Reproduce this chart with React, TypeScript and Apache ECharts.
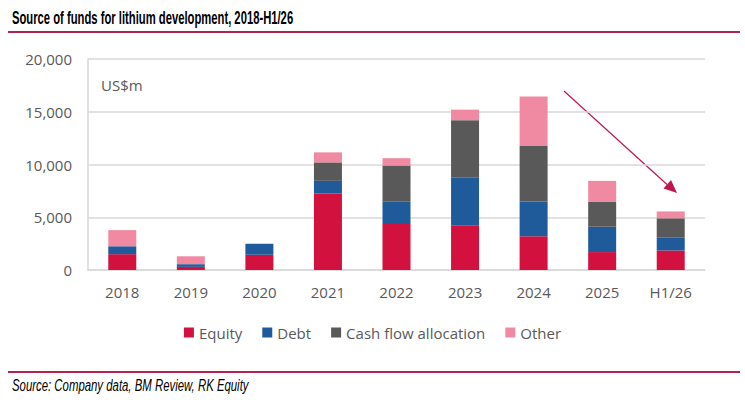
import React, { useEffect, useRef } from "react";
import * as echarts from "echarts";

const categories = ["2018", "2019", "2020", "2021", "2022", "2023", "2024", "2025", "H1/26"];
const equity = [1500, 300, 1450, 7250, 4450, 4250, 3200, 1700, 1850];
const debt = [750, 250, 1050, 1200, 2050, 4500, 3300, 2400, 1250];
const cashFlow = [0, 0, 0, 1750, 3400, 5450, 5250, 2350, 1800];
const other = [1530, 750, 0, 950, 700, 1000, 4700, 2000, 650];
const yTicks = [0, 5000, 10000, 15000, 20000];

const RED = "#d3113f";
const BLUE = "#1f5b9a";
const GREY = "#595959";
const PINK = "#f08aa3";
const RULE = "#b5224d";
const LABEL = "#595959";
const FONT = "'Open Sans', sans-serif";

const App = () => {
  const chartRef = useRef<HTMLDivElement>(null);

  useEffect(() => {
    if (!chartRef.current) return;
    const chart = echarts.init(chartRef.current, null, { renderer: "svg" });

    const bar = (name: string, data: number[], color: string) => ({
      name,
      type: "bar" as const,
      stack: "funds",
      data,
      barWidth: 28,
      itemStyle: { color },
      emphasis: { disabled: true },
    });

    chart.setOption({
      animation: false,
      textStyle: { fontFamily: FONT },
      grid: { left: 88, right: 40, top: 59, bottom: 132 },
      xAxis: {
        type: "category",
        data: categories,
        axisTick: { show: false },
        axisLine: { lineStyle: { color: "#d9d9d9", width: 1.5 } },
        axisLabel: { color: LABEL, fontSize: 15, margin: 14, fontFamily: FONT },
      },
      yAxis: {
        type: "value",
        min: yTicks[0],
        max: yTicks[yTicks.length - 1],
        interval: 5000,
        axisLine: { show: true, lineStyle: { color: "#d9d9d9", width: 1.5 } },
        axisTick: { show: false },
        splitLine: { lineStyle: { color: "#d9d9d9", width: 1.5 } },
        axisLabel: {
          color: LABEL,
          fontSize: 15,
          margin: 16,
          fontFamily: FONT,
          formatter: (v: number) => v.toLocaleString("en-US"),
        },
      },
      legend: {
        left: "center",
        top: 320,
        itemWidth: 10,
        itemHeight: 10,
        itemGap: 20,
        icon: "rect",
        textStyle: { color: LABEL, fontSize: 15, fontFamily: FONT },
        data: ["Equity", "Debt", "Cash flow allocation", "Other"],
      },
      series: [
        bar("Equity", equity, RED),
        bar("Debt", debt, BLUE),
        bar("Cash flow allocation", cashFlow, GREY),
        bar("Other", other, PINK),
      ],
      graphic: [
        {
          type: "text",
          x: 12,
          y: 8,
          scaleX: 0.625,
          style: {
            text: "Source of funds for lithium development, 2018-H1/26",
            font: "bold 18px 'Liberation Sans', Arial, sans-serif",
            fill: "#000",
          },
        },
        {
          type: "line",
          shape: { x1: 8, y1: 32, x2: 740, y2: 32 },
          style: { stroke: RULE, lineWidth: 2 },
        },
        {
          type: "text",
          x: 101,
          y: 77,
          style: { text: "US$m", font: `15px ${FONT}`, fill: LABEL },
        },
        {
          type: "line",
          shape: { x1: 564, y1: 91, x2: 667, y2: 184.5 },
          style: { stroke: "#c0174a", lineWidth: 1.2 },
        },
        {
          type: "polygon",
          shape: { points: [[677, 193], [663.5, 188.5], [671, 180]] },
          style: { fill: "#c0174a" },
        },
        {
          type: "line",
          shape: { x1: 8, y1: 372, x2: 740, y2: 372 },
          style: { stroke: RULE, lineWidth: 2 },
        },
        {
          type: "text",
          x: 12,
          y: 377,
          scaleX: 0.67,
          style: {
            text: "Source: Company data, BM Review, RK Equity",
            font: "italic 17px 'Liberation Sans', Arial, sans-serif",
            fill: "#000",
          },
        },
      ],
    });

    return () => {
      chart.dispose();
    };
  }, []);

  return (
    <div
      ref={chartRef}
      style={{ position: "fixed", left: 0, top: 0, width: 745, height: 402, background: "#fff" }}
    />
  );
};

export default App;
